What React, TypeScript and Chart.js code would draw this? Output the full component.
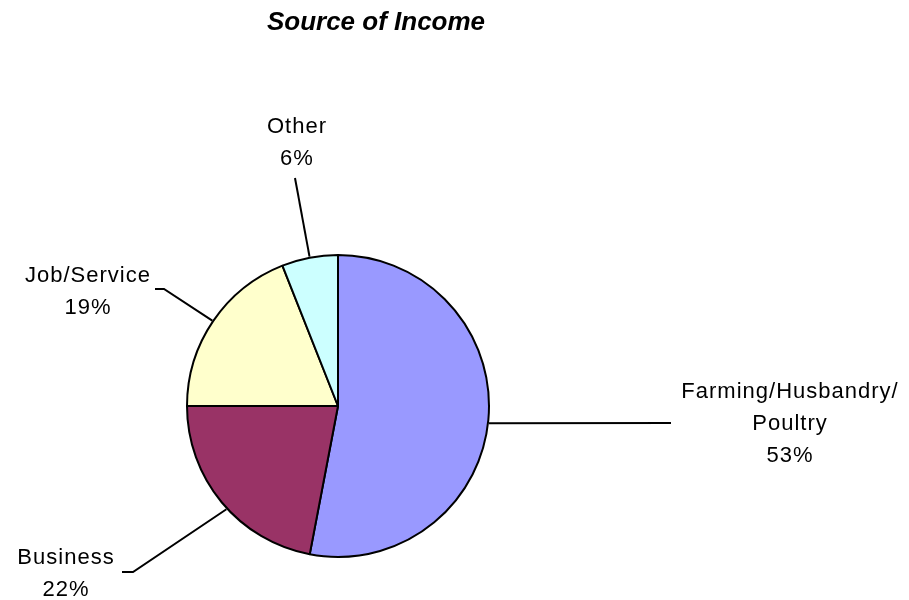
import React, { useEffect, useRef } from "react";
import { Chart, registerables } from "chart.js";

Chart.register(...registerables);

const TITLE = "Source of Income";
const categories = ["Farming/Husbandry/Poultry", "Business", "Job/Service", "Other"];
const labelLines = [["Farming/Husbandry/", "Poultry"], ["Business"], ["Job/Service"], ["Other"]];
const values = [53, 22, 19, 6];
const colors = ["#9999FF", "#993366", "#FFFFCC", "#CCFFFF"];

// label layout (annotation placement): centre x, first baseline y,
// fraction along the slice where the leader starts, leader elbow points
const labelLayout = [
  { cx: 790, y: 398, at: 0.506, leader: [[671, 423]] },
  { cx: 66, y: 564, at: 0.46, leader: [[133, 572], [122, 572]] },
  { cx: 88, y: 282, at: 0.5, leader: [[164, 289], [155, 289]] },
  { cx: 297, y: 133, at: 0.5, leader: [[295, 178]] },
];

const FONT = '"Liberation Sans", Arial, sans-serif';

const labelPlugin = {
  id: "pieLabels",
  afterDraw(chart: any) {
    const ctx = chart.ctx as CanvasRenderingContext2D;
    const meta = chart.getDatasetMeta(0);
    const data = chart.data.datasets[0].data as number[];
    const total = data.reduce((a, b) => a + b, 0);
    ctx.save();
    ctx.fillStyle = "#000";
    ctx.textAlign = "center";
    ctx.textBaseline = "alphabetic";
    ctx.font = `italic bold 26px ${FONT}`;
    ctx.fillText(TITLE, 376, 30);

    meta.data.forEach((arc: any, i: number) => {
      const p = arc.getProps(["x", "y", "startAngle", "endAngle", "outerRadius"], true);
      const lay = labelLayout[i];
      const a = p.startAngle + (p.endAngle - p.startAngle) * lay.at;
      const r = p.outerRadius + 1;
      const sx = p.x + Math.cos(a) * r;
      const sy = p.y + Math.sin(a) * r;
      ctx.beginPath();
      ctx.strokeStyle = "#000";
      ctx.lineWidth = 2;
      ctx.moveTo(sx, sy);
      lay.leader.forEach(([x, y]) => ctx.lineTo(x, y));
      ctx.stroke();

      ctx.font = `22px ${FONT}`;
      (ctx as any).letterSpacing = "1px";
      ctx.textAlign = "center";
      const lines = [...labelLines[i], Math.round((data[i] / total) * 100) + "%"];
      lines.forEach((t, k) => ctx.fillText(t, lay.cx, lay.y + k * 32));
    });
    ctx.restore();
  },
};

export default function App() {
  const ref = useRef<HTMLCanvasElement>(null);
  useEffect(() => {
    if (!ref.current) return;
    const chart = new Chart(ref.current, {
      type: "pie",
      data: {
        labels: categories,
        datasets: [
          {
            data: values,
            backgroundColor: colors,
            borderColor: "#000",
            borderWidth: 2,
          },
        ],
      },
      options: {
        animation: false,
        responsive: false,
        radius: 151,
        layout: { padding: { left: 0, right: 233, top: 212, bottom: 0 } },
        plugins: {
          legend: { display: false },
          title: { display: false },
          tooltip: { enabled: false },
        },
      },
      plugins: [labelPlugin],
    });
    return () => chart.destroy();
  }, []);
  return (
    <div style={{ position: "absolute", left: 0, top: 0, width: 909, height: 600, background: "#fff" }}>
      <canvas ref={ref} width={909} height={600} style={{ display: "block" }} />
    </div>
  );
}
